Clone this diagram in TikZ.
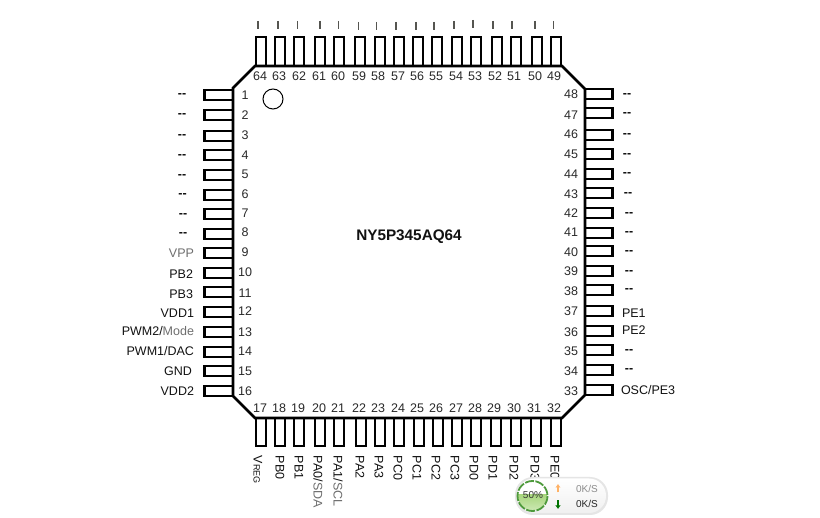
\documentclass[tikz,border=0pt]{standalone}
\usepackage{fontspec}
\setmainfont{Liberation Sans}
\usetikzlibrary{arrows.meta}
\definecolor{ink}{HTML}{111111}
\definecolor{soft}{HTML}{6E6E6E}
\definecolor{tickc}{HTML}{555550}
\definecolor{ringg}{HTML}{4E9A3C}
\definecolor{fillg}{HTML}{A9D77F}
\newcommand{\nopin}{-{}-}
\tikzset{
  pinbox/.style={draw=black,line width=2.3pt,fill=white},
  body/.style={draw=black,line width=2.8pt,line join=miter,fill=white},
  txt/.style={inner sep=0pt,outer sep=0pt,text=ink,font=\fontsize{12.5}{14}\selectfont},
  num/.style={txt,text=ink!90},
  sig/.style={txt},
  gap/.style={txt,yshift=-2pt,font=\fontsize{12.5}{14}\selectfont\bfseries},
  vsig/.style={txt,rotate=-90,anchor=west},
  tickm/.style={draw=tickc,line width=1.2pt},
  wtxt/.style={inner sep=0pt,font=\fontsize{10}{11}\selectfont}
}
\begin{document}
\begin{tikzpicture}[x=1pt,y=-1pt]
\useasboundingbox (0,0) rectangle (820,518);
\fill[white] (0,0) rectangle (820,518);
% top pins: number / left edge / tick x / label x
\foreach \n/\l/\t/\c/\yy in {64/255/258/260/21,63/274/278/279/21,62/293/297.5/299/21,61/314/320/319/21,60/333/338.5/338/21,59/354/358.5/359/22,58/374/376.5/378/22,57/393/396/398/22,56/412/416/417/22,55/431/434/436/22,54/451/454/456/21,53/470/473/475/20,52/491/493/495/21,51/510/512/514/21,50/531/535/535/21,49/550/553.5/554/21}{
  \draw[pinbox] (\l+1,37) rectangle (\l+11,66);
  \draw[tickm] (\t,\yy) -- (\t,\yy+8);
  \node[num] (n\n) at (\c,76.5) {\n};
}
% bottom pins
\foreach \n/\l/\c in {17/255/260,18/274/279,19/293/298,20/314/319,21/333/338,22/355/359,23/374/378,24/393/398,25/413/417,26/432/436,27/451/456,28/470/475,29/490/494,30/510/514,31/530/534,32/550/554}{
  \draw[pinbox] (\l+1,418) rectangle (\l+11,446);
  \node[num] (n\n) at (\c,408.5) {\n};
}
% left pins
\foreach \n/\t/\c in {1/90/95,2/110/115,3/131/135,4/150/155,5/170/174,6/190/194,7/209/213,8/229/232,9/248/252,10/268/272,11/287/293,12/307/311,13/327/332,14/347/351,15/366/371,16/386/391}{
  \draw[pinbox] (233,\t) rectangle (204.5,\t+10);
  \node[num] (n\n) at (245,\c) {\n};
}
% right pins
\foreach \n/\t/\c in {48/89/94,47/108/115,46/130/134,45/149/154,44/169/174,43/188/194,42/208/213,41/228/232,40/246/252,39/266/271,38/285/291,37/306/311,36/326/332,35/345/351,34/365/371,33/385/391}{
  \draw[pinbox] (585,\t) rectangle (612.5,\t+10);
  \node[num] (n\n) at (571,\c) {\n};
}
% package outline
\draw[body,fill=none] (255,66) -- (562,66) -- (585,89) -- (585,395) -- (562,418) -- (255,418) -- (233,396) -- (233,88) -- cycle;
\draw[black,line width=1pt] (273,99) circle (10);
\node[txt,font=\fontsize{15.3}{17}\selectfont\bfseries] (title) at (409,236.5) {NY5P345AQ64};
% left labels
\foreach \i/\y/\x in {1/94/182,2/114/182,3/135/182,4/155/182,5/175/182,6/194/182.5,7/214/183,8/233/183}{
  \node[gap] (ll\i) at (\x,\y) {\nopin};
}
\node[sig,anchor=east,text=soft] (vpp) at (194,253) {VPP};
\node[sig,anchor=east] (pb2) at (193,274) {PB2};
\node[sig,anchor=east] (pb3) at (193,294) {PB3};
\node[sig,anchor=east] (vdd1) at (194,313) {VDD1};
\node[sig,anchor=east] (pwm2) at (194,331) {PWM2/\textcolor{soft}{Mode}};
\node[sig,anchor=east] (pwm1) at (194,351) {PWM1/DAC};
\node[sig,anchor=east] (gnd) at (192,371) {GND};
\node[sig,anchor=east] (vdd2) at (194,391) {VDD2};
% right labels
\foreach \i/\y/\x in {48/94/627,47/113/627,46/134/627,45/154/627,44/173/627,43/193/628,42/213/629,41/232/629,40/251/629,39/271/629,38/289/629,35/350/629,34/369/629}{
  \node[gap] (rl\i) at (\x,\y) {\nopin};
}
\node[sig,anchor=west] (pe1) at (622,313) {PE1};
\node[sig,anchor=west] (pe2) at (622,330) {PE2};
\node[sig,anchor=west] (osc) at (621,390) {OSC/PE3};
% bottom labels
\node[vsig] (vreg) at (258,456) {V\fontsize{9}{10}\selectfont REG};
\node[vsig] (pb0) at (280,456) {PB0};
\node[vsig] (pb1) at (299,456) {PB1};
\node[vsig] (pa0) at (318,456) {PA0/\textcolor{soft}{SDA}};
\node[vsig] (pa1) at (338,456) {PA1/\textcolor{soft}{SCL}};
\node[vsig] (pa2) at (360,456) {PA2};
\node[vsig] (pa3) at (379,456) {PA3};
\node[vsig] (pc0) at (398,456) {PC0};
\node[vsig] (pc1) at (417,456) {PC1};
\node[vsig] (pc2) at (436,456) {PC2};
\node[vsig] (pc3) at (455,456) {PC3};
\node[vsig] (pd0) at (474,456) {PD0};
\node[vsig] (pd1) at (493,456) {PD1};
\node[vsig] (pd2) at (514,456) {PD2};
\node[vsig] (pd3) at (535,456) {PD3};
\node[vsig] (pe0) at (555,456) {PE0};
% network-speed widget
\fill[black!10,rounded corners=18pt] (515,477) rectangle (608,515);
\shade[top color=white,bottom color=black!6,rounded corners=17pt] (517,478.5) rectangle (606,513);
\begin{scope}
  \clip (532.5,496) circle (14.5);
  \fill[white] (518,480) rectangle (548,497);
  \shade[top color=fillg,bottom color=fillg!55] (518,495) rectangle (548,512);
\end{scope}
\draw[ringg,line width=1.8pt,dash pattern=on 9pt off 1.5pt] (532.5,496) circle (15);
\node[wtxt,text=black!80] (pct) at (533,495.5) {50\%};
\draw[-{Latex[length=3.5pt,width=5.5pt]},orange!60,line width=1.5pt] (558,492.5) -- (558,484);
\draw[-{Latex[length=3.5pt,width=5.5pt]},green!45!black,line width=1.5pt] (558,500.5) -- (558,509);
\node[wtxt,text=black!45] (up) at (587,488.5) {0K/S};
\node[wtxt,text=black!85] (down) at (587,504) {0K/S};
\end{tikzpicture}
\end{document}
